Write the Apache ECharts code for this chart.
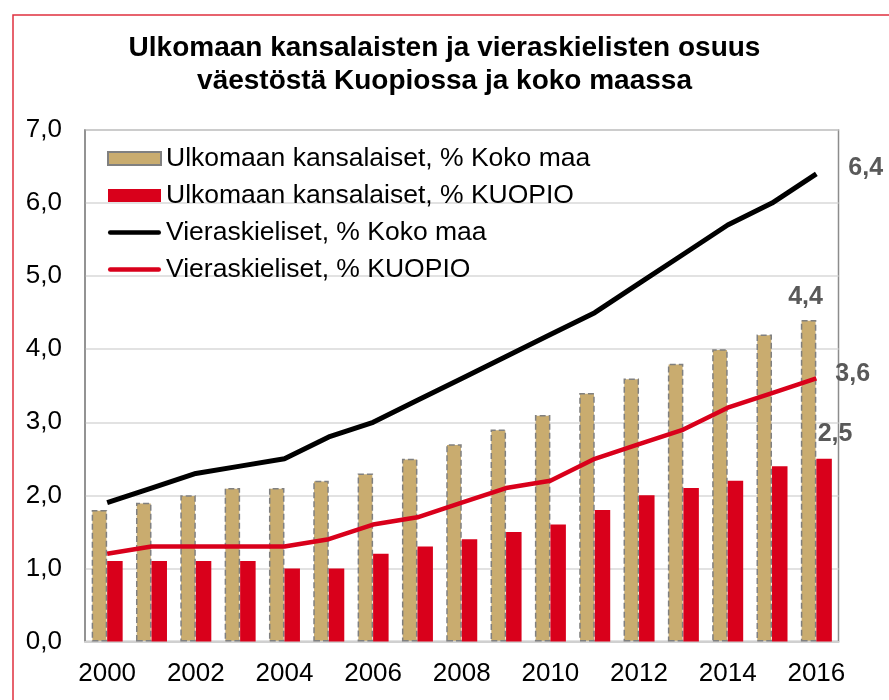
<!DOCTYPE html>
<html>
<head>
<meta charset="utf-8">
<script src="https://cdn.jsdelivr.net/npm/echarts@6/dist/echarts.min.js"></script>
<style>html,body{margin:0;padding:0;background:#fff;}#c{width:889px;height:700px;}</style>
</head>
<body>
<div id="c"></div>
<script>
const years = ['2000','2001','2002','2003','2004','2005','2006','2007','2008','2009','2010','2011','2012','2013','2014','2015','2016'];
const ulkKokoMaa = [1.8,1.9,2.0,2.1,2.1,2.2,2.3,2.5,2.7,2.9,3.1,3.4,3.6,3.8,4.0,4.2,4.4];
const ulkKuopio = [1.1,1.1,1.1,1.1,1.0,1.0,1.2,1.3,1.4,1.5,1.6,1.8,2.0,2.1,2.2,2.4,2.5];
const vierKokoMaa = [1.9,2.1,2.3,2.4,2.5,2.8,3.0,3.3,3.6,3.9,4.2,4.5,4.9,5.3,5.7,6.0,6.4];
const vierKuopio = [1.2,1.3,1.3,1.3,1.3,1.4,1.6,1.7,1.9,2.1,2.2,2.5,2.7,2.9,3.2,3.4,3.6];
const seriesNames = ['Ulkomaan kansalaiset, % Koko maa','Ulkomaan kansalaiset, % KUOPIO','Vieraskieliset, % Koko maa','Vieraskieliset, % KUOPIO'];
const yTicks = [0,1,2,3,4,5,6,7];

const fmt = v => v.toFixed(1).replace('.', ',');
const FONT = 'Liberation Sans, Arial, sans-serif';
const lblStyle = {show:true, fontFamily:FONT, fontSize:25, fontWeight:'bold', color:'#595959', formatter: p => fmt(p.value)};
function withLastLabel(arr, label){
  return arr.map((v,i)=> i===arr.length-1 ? {value:v, label:Object.assign({}, lblStyle, label)} : v);
}
const lineIcon = 'path://M0,0 M53,13 M2,4.3 L51,4.3 A2.2,2.2 0 0 1 51,8.7 L2,8.7 A2.2,2.2 0 0 1 2,4.3 Z';

const chart = echarts.init(document.getElementById('c'), null, {renderer:'canvas'});
chart.setOption({
  animation:false,
  backgroundColor:'#fff',
  title:{
    text:'Ulkomaan kansalaisten ja vieraskielisten osuus\nväestöstä Kuopiossa ja koko maassa',
    left:'center', top:27,
    textStyle:{fontFamily:FONT, fontSize:28, fontWeight:'bold', color:'#000', lineHeight:33}
  },
  graphic:[{type:'rect', shape:{x:13,y:15,width:900,height:720}, style:{fill:'none', stroke:'#e0303f', lineWidth:1.5}, silent:true}],
  legend:{
    orient:'vertical', left:102, top:140, itemWidth:53, itemHeight:13, itemGap:10,
    textStyle:{fontFamily:FONT, fontSize:26.5, color:'#000'},
    data:[
      {name:seriesNames[0], icon:'rect'},
      {name:seriesNames[1], icon:'rect'},
      {name:seriesNames[2], icon:lineIcon, itemStyle:{color:'#000', borderWidth:0}},
      {name:seriesNames[3], icon:lineIcon, itemStyle:{color:'#d9001b', borderWidth:0}}
    ]
  },
  grid:{left:85, right:50.5, top:130, bottom:58.5, show:true, borderColor:'#8c8c8c', borderWidth:1.5, containLabel:false},
  xAxis:{
    type:'category', data:years, boundaryGap:true,
    axisLine:{lineStyle:{color:'#d0d0d0', width:2}},
    axisTick:{show:false},
    axisLabel:{interval:1, fontFamily:FONT, fontSize:26, color:'#000', margin:19}
  },
  yAxis:{
    type:'value', min:yTicks[0], max:yTicks[yTicks.length-1], interval:1,
    axisLine:{show:true, lineStyle:{color:'#8c8c8c', width:1.5}},
    axisTick:{show:false},
    splitLine:{lineStyle:{color:'#d9d9d9', width:1.5}},
    axisLabel:{fontFamily:FONT, fontSize:26, color:'#000', margin:23, formatter: v => fmt(v)}
  },
  series:[
    {name:seriesNames[0], type:'bar', barWidth:15.5, barGap:'0%',
     itemStyle:{color:'#c9ac6f', borderColor:'#808080', borderWidth:1.5, borderType:'dashed'},
     data:withLastLabel(ulkKokoMaa, {position:'top', distance:10, offset:[-3,0]})},
    {name:seriesNames[1], type:'bar', barWidth:15.5, barGap:'0%',
     itemStyle:{color:'#d9001b'},
     data:withLastLabel(ulkKuopio, {position:'top', distance:12, offset:[11,0]})},
    {name:seriesNames[2], type:'line', symbol:'circle', symbolSize:0, showSymbol:true, z:5,
     lineStyle:{color:'#000', width:5}, itemStyle:{color:'#000'},
     data:withLastLabel(vierKokoMaa, {position:'right', distance:32, offset:[0,-6]})},
    {name:seriesNames[3], type:'line', symbol:'circle', symbolSize:0, showSymbol:true, z:5,
     lineStyle:{color:'#d9001b', width:4.5}, itemStyle:{color:'#d9001b'},
     data:withLastLabel(vierKuopio, {position:'right', distance:19, offset:[0,-4]})}
  ]
});
</script>
</body>
</html>
